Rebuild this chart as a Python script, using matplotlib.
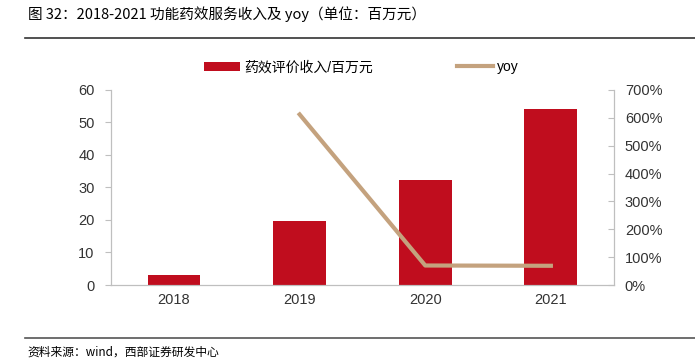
import matplotlib
matplotlib.use('Agg')
import matplotlib.pyplot as plt
from matplotlib.ticker import FuncFormatter

plt.rcParams['font.family'] = ['Liberation Sans', 'Noto Sans CJK SC', 'DejaVu Sans']

years = ['2018', '2019', '2020', '2021']
revenue = [3.1, 19.6, 32.4, 54.0]
yoy_years = ['2019', '2020', '2021']
yoy = [612, 70, 69]

bar_color = '#C00D1E'
line_color = '#C4A27E'
axis_gray = '#BFBFBF'

fig = plt.figure(figsize=(6.95, 3.64), dpi=100)
ax = fig.add_axes([0.16, 0.217, 0.723, 0.536])
x = list(range(len(years)))
ax.bar(x, revenue, width=0.42, color=bar_color, label='药效评价收入/百万元', zorder=2)
ax.set_ylim(0, 60)
ax.set_yticks(range(0, 61, 10))
ax.set_xlim(-0.5, 3.5)
ax.set_xticks(x)
ax.set_xticklabels(years)

ax2 = ax.twinx()
xi = [years.index(y) for y in yoy_years]
ax2.plot(xi, yoy, color=line_color, lw=3, label='yoy', zorder=3)
ax2.set_ylim(0, 700)
ax2.set_yticks(range(0, 701, 100))
ax2.yaxis.set_major_formatter(FuncFormatter(lambda v, p: f'{int(v)}%'))

for a in (ax, ax2):
    a.spines['top'].set_visible(False)
    for s in ('left', 'right', 'bottom'):
        a.spines[s].set_color(axis_gray)
    a.tick_params(labelsize=10.5, colors='#333333', length=4)
    a.tick_params(color=axis_gray)
ax.tick_params(axis='x', length=0, pad=6)
ax2.tick_params(axis='y', direction='in', pad=8)
ax.tick_params(axis='y', pad=8)

h1, l1 = ax.get_legend_handles_labels()
h2, l2 = ax2.get_legend_handles_labels()
fig.legend(h1 + h2, l1 + l2, loc='center', bbox_to_anchor=(0.52, 0.815), ncol=2,
           frameon=False, fontsize=10, columnspacing=6.0, handlelength=2.6,
           handletextpad=0.3)

fig.text(0.04, 0.962, '图 32：2018-2021 功能药效服务收入及 yoy（单位：百万元）',
         fontsize=10.5, va='center', family=['Noto Sans CJK SC', 'DejaVu Sans'])
fig.add_artist(plt.Line2D([0.036, 1.0], [0.895, 0.895], color='#333333', lw=1.2))
fig.add_artist(plt.Line2D([0.036, 1.0], [0.072, 0.072], color='#555555', lw=1.2))
fig.text(0.04, 0.032, '资料来源：wind，西部证券研发中心', fontsize=8.5, va='center',
         family=['Noto Sans CJK SC', 'DejaVu Sans'])

fig.savefig('out.png', dpi=100)
